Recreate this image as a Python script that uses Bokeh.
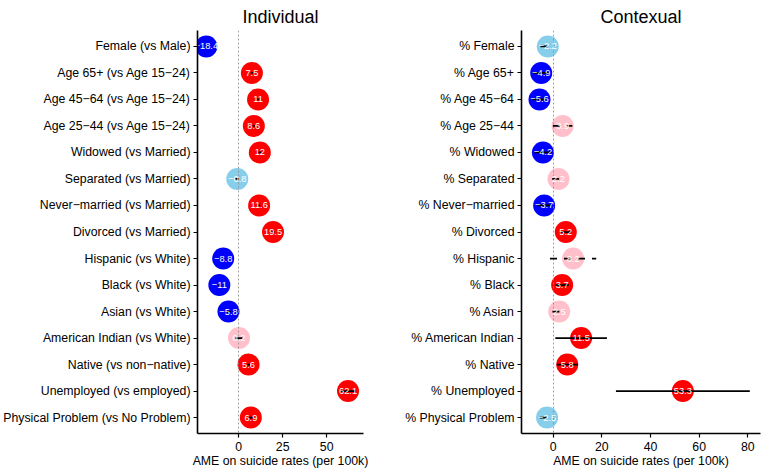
from bokeh.plotting import figure
from bokeh.models import Range1d, FixedTicker, ColumnDataSource
from bokeh.layouts import row
from bokeh.embed import file_html
from bokeh.resources import INLINE
from bokeh.core.properties import value

FONT = "Liberation Sans"

# ---------------- data ----------------
ind_labels = ["Female (vs Male)", "Age 65+ (vs Age 15\u221224)", "Age 45\u221264 (vs Age 15\u221224)",
              "Age 25\u221244 (vs Age 15\u221224)", "Widowed (vs Married)", "Separated (vs Married)",
              "Never\u2212married (vs Married)", "Divorced (vs Married)", "Hispanic (vs White)",
              "Black (vs White)", "Asian (vs White)", "American Indian (vs White)",
              "Native (vs non\u2212native)", "Unemployed (vs employed)", "Physical Problem (vs No Problem)"]
ind_ame = [-18.4, 7.5, 11, 8.6, 12, -0.8, 11.6, 19.5, -8.8, -11, -5.8, 0.2, 5.6, 62.1, 6.9]
ind_lo = [-19.1, 6.9, 10.4, 8.0, 11.1, -1.8, 11.0, 18.6, -9.4, -11.6, -7.0, -1.8, 4.8, 57.6, 5.7]
ind_hi = [-17.7, 8.1, 11.6, 9.2, 12.9, 0.2, 12.2, 20.4, -8.2, -10.4, -4.6, 2.2, 6.4, 66.6, 8.1]

ctx_labels = ["% Female", "% Age 65+", "% Age 45\u221264", "% Age 25\u221244", "% Widowed",
              "% Separated", "% Never\u2212married", "% Divorced", "% Hispanic", "% Black",
              "% Asian", "% American Indian", "% Native", "% Unemployed", "% Physical Problem"]
ctx_ame = [-2.2, -4.9, -5.6, 3.9, -4.2, 2.2, -3.7, 5.2, 8.2, 3.7, 2.5, 11.5, 5.8, 53.3, -2.5]
ctx_lo = [-5.2, -8.5, -8.5, -0.1, -7.7, -0.4, -6.7, 3.2, -1.3, 1.0, -0.3, 0.9, 1.5, 25.8, -5.5]
ctx_hi = [0.8, -1.3, -2.7, 7.9, -0.7, 4.8, -0.7, 7.2, 17.7, 6.4, 5.3, 22.1, 10.1, 80.8, 0.5]

ind_xticks = [0, 25, 50]
ctx_xticks = [0, 20, 40, 60, 80]

RED, BLUE, PINK, SKY = "#FF0000", "#0000FF", "#FFC0CB", "#87CEEB"
LABEL_SIZE = "12.3px"


def fmt(v):
    s = f"{abs(v):g}"
    return ("\u2212" + s) if v < 0 else s


def make_panel(title, labels, ame, lo, hi, xstart, xend, xticks, width, bl, br):
    n = len(labels)
    ypos = [n - i for i in range(n)]
    colors, sig = [], []
    for a, l, h in zip(ame, lo, hi):
        s = l > 0 or h < 0
        sig.append(s)
        if s:
            colors.append(RED if a > 0 else BLUE)
        else:
            colors.append(PINK if a > 0 else SKY)
    src = ColumnDataSource(dict(x=ame, y=ypos, lo=lo, hi=hi, c=colors,
                                t=[fmt(a) for a in ame]))
    sig_src = ColumnDataSource(dict(
        y=[y for y, s in zip(ypos, sig) if s],
        lo=[v for v, s in zip(lo, sig) if s],
        hi=[v for v, s in zip(hi, sig) if s]))
    ns_src = ColumnDataSource(dict(
        y=[y for y, s in zip(ypos, sig) if not s],
        lo=[v for v, s in zip(lo, sig) if not s],
        hi=[v for v, s in zip(hi, sig) if not s]))

    p = figure(width=width, height=472, output_backend="svg", toolbar_location=None,
               x_range=Range1d(xstart, xend), y_range=Range1d(0.4, n + 0.6),
               min_border_left=bl, min_border_right=br, min_border_top=30,
               min_border_bottom=39, title=title)
    p.title.align = "center"
    p.title.text_font = FONT
    p.title.text_font_size = "18px"
    p.title.text_font_style = "normal"
    p.title.text_color = "black"
    p.title.standoff = 8
    p.outline_line_color = None
    p.xgrid.visible = False
    p.ygrid.visible = False
    p.background_fill_color = "white"
    p.border_fill_color = "white"

    p.scatter("x", "y", source=src, size=22, fill_color="c", line_color=None)
    p.vspan(x=[0], line_color="#8c8c8c", line_width=0.8, line_dash="2 2")
    p.segment(x0="lo", x1="hi", y0="y", y1="y", source=sig_src,
              line_color="black", line_width=1.75)
    p.segment(x0="lo", x1="hi", y0="y", y1="y", source=ns_src,
              line_color="black", line_width=1.75, line_dash="7 7")
    p.text("x", "y", text="t", source=src, text_align="center", text_baseline="middle",
           text_color="white", text_font_size="9.3px", text_font=value(FONT))

    p.xaxis.ticker = FixedTicker(ticks=xticks)
    p.yaxis.ticker = FixedTicker(ticks=ypos)
    p.yaxis.major_label_overrides = {y: lab for y, lab in zip(ypos, labels)}
    p.xaxis.axis_label = "AME on suicide rates (per 100k)"
    for ax in (p.xaxis, p.yaxis):
        ax.axis_line_color = "black"
        ax.axis_line_width = 1.6
        ax.major_tick_line_color = "black"
        ax.major_tick_line_width = 1.2
        ax.major_tick_out = 4
        ax.major_tick_in = 0
        ax.minor_tick_line_color = None
        ax.major_label_text_font = FONT
        ax.major_label_text_font_size = LABEL_SIZE
        ax.major_label_text_color = "black"
    p.yaxis.major_label_standoff = 3
    p.xaxis.major_label_standoff = 4
    p.xaxis.axis_label_text_font = FONT
    p.xaxis.axis_label_text_font_size = LABEL_SIZE
    p.xaxis.axis_label_text_font_style = "normal"
    p.xaxis.axis_label_text_color = "black"
    p.xaxis.axis_label_standoff = 0
    return p


p1 = make_panel("Individual", ind_labels, ind_ame, ind_lo, ind_hi, -23.4, 70.9,
                ind_xticks, 388, 197, 25)
p2 = make_panel("Contexual", ctx_labels, ctx_ame, ctx_lo, ctx_hi, -13.0, 85.2,
                ctx_xticks, 374, 133, 2)

layout = row(p1, p2)
open("out.html", "w").write(file_html(layout, INLINE))
